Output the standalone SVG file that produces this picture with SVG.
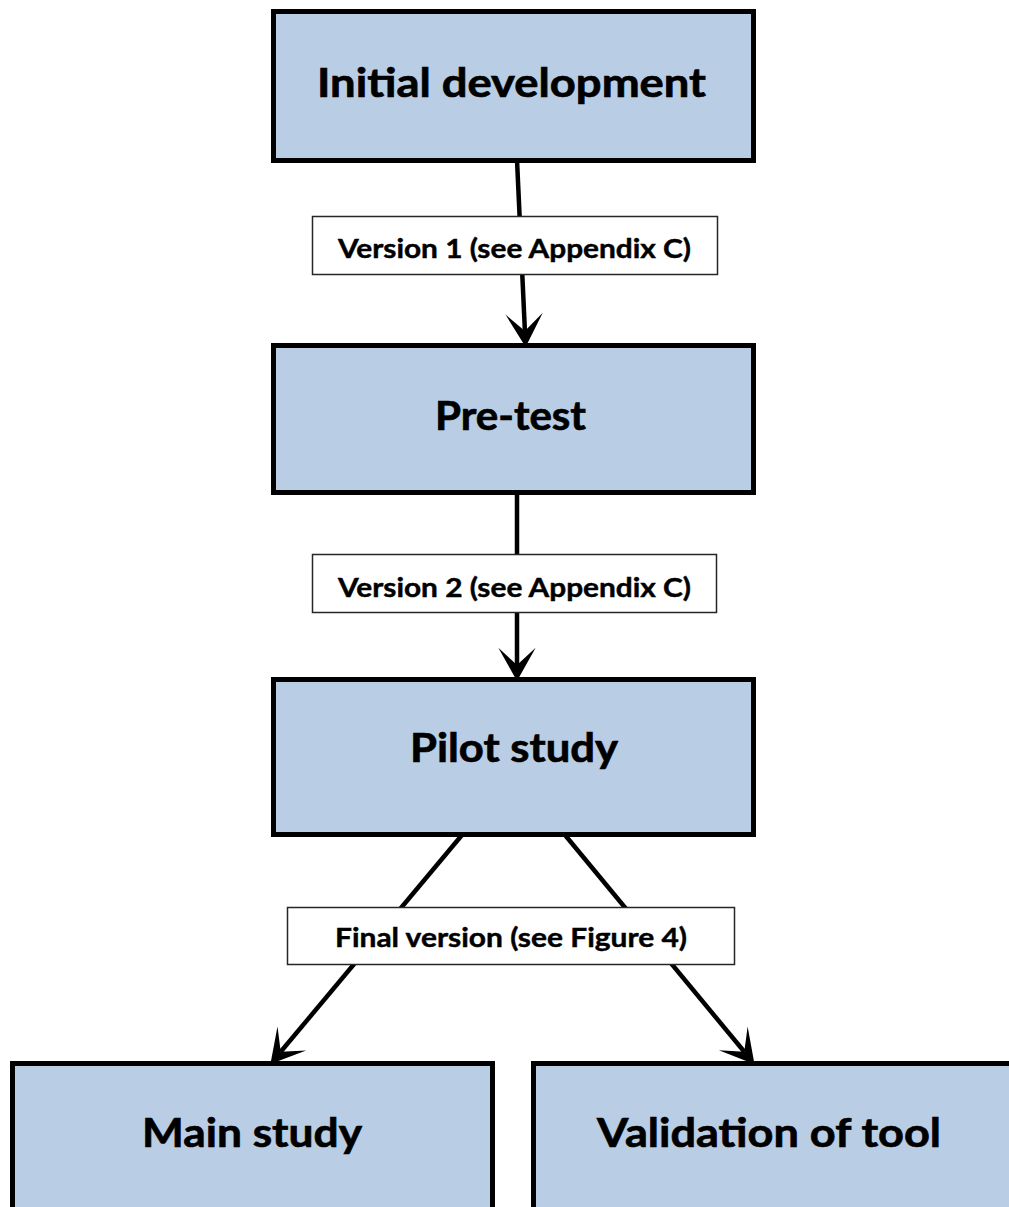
<svg xmlns="http://www.w3.org/2000/svg" width="1009" height="1207" viewBox="0 0 1009 1207">
  <style>
    .stage { fill: #B9CDE5; stroke: #000000; stroke-width: 5; }
    .stage-text { font-family: Lato, "Open Sans", "Liberation Sans", sans-serif; font-weight: 700; font-size: 41px; fill: #000000; stroke: #000000; stroke-width: 0.7; text-anchor: middle; }
    .tag { fill: #FFFFFF; stroke: #262626; stroke-width: 1.5; }
    .tag-text { font-family: Lato, "Open Sans", "Liberation Sans", sans-serif; font-weight: 700; font-size: 27px; fill: #000000; stroke: #000000; stroke-width: 0.45; text-anchor: middle; }
    .flow { fill: none; stroke: #000000; stroke-width: 4.5; marker-end: url(#head); }
  </style>
  <defs>
    <marker id="head" markerUnits="userSpaceOnUse" markerWidth="40" markerHeight="40" viewBox="-14 -15 28 30" refX="0" refY="0" orient="auto" overflow="visible">
      <path d="M12,0 L-13,-14 L0,0 L-13,14 Z" fill="#000000"/>
    </marker>
  </defs>

  <!-- connectors (drawn under the stage boxes and tags) -->
  <g id="connectors">
    <line class="flow" x1="517" y1="160" x2="524.9" y2="331"/>
    <line class="flow" x1="517" y1="492" x2="517" y2="665"/>
    <line class="flow" x1="462" y1="835" x2="280.7" y2="1051.8"/>
    <line class="flow" x1="565" y1="835" x2="744.3" y2="1051.8"/>
  </g>

  <!-- stage boxes -->
  <g id="initial-development">
    <rect class="stage" x="273.5" y="11.5" width="480" height="149"/>
    <text class="stage-text" x="511.5" y="97" textLength="389" lengthAdjust="spacingAndGlyphs">Initial development</text>
  </g>
  <g id="pre-test">
    <rect class="stage" x="273.5" y="345.5" width="480" height="147"/>
    <text class="stage-text" x="510.5" y="430" textLength="151" lengthAdjust="spacingAndGlyphs">Pre-test</text>
  </g>
  <g id="pilot-study">
    <rect class="stage" x="273.5" y="679.5" width="480" height="155"/>
    <text class="stage-text" x="514" y="762" textLength="208" lengthAdjust="spacingAndGlyphs">Pilot study</text>
  </g>
  <g id="main-study">
    <rect class="stage" x="12.5" y="1063.5" width="480" height="200"/>
    <text class="stage-text" x="252" y="1147" textLength="220" lengthAdjust="spacingAndGlyphs">Main study</text>
  </g>
  <g id="validation-of-tool">
    <rect class="stage" x="533.5" y="1063.5" width="480" height="200"/>
    <text class="stage-text" x="769" y="1147" textLength="344" lengthAdjust="spacingAndGlyphs">Validation of tool</text>
  </g>

  <!-- version tags sitting on the connectors -->
  <g id="tag-version-1">
    <rect class="tag" x="312.5" y="216.5" width="405" height="58"/>
    <text class="tag-text" x="514.5" y="258" textLength="353" lengthAdjust="spacingAndGlyphs">Version 1 (see Appendix C)</text>
  </g>
  <g id="tag-version-2">
    <rect class="tag" x="312.5" y="554.5" width="404" height="58"/>
    <text class="tag-text" x="514.5" y="597" textLength="353" lengthAdjust="spacingAndGlyphs">Version 2 (see Appendix C)</text>
  </g>
  <g id="tag-final-version">
    <rect class="tag" x="287.5" y="907.5" width="447" height="57"/>
    <text class="tag-text" x="511" y="947" textLength="352" lengthAdjust="spacingAndGlyphs">Final version (see Figure 4)</text>
  </g>
</svg>
